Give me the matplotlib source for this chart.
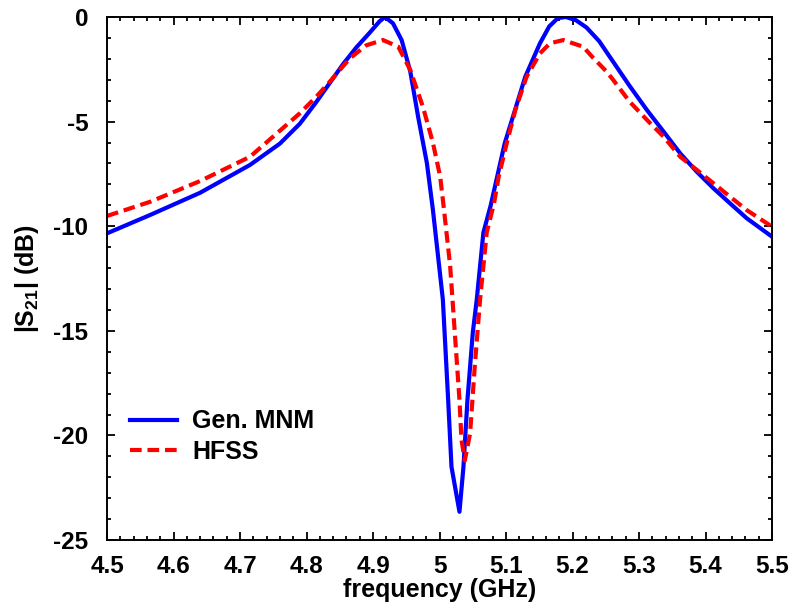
import numpy as np
import matplotlib
matplotlib.use('Agg')
import matplotlib.pyplot as plt
from matplotlib.ticker import MultipleLocator, FuncFormatter

# Gen. MNM curve (freq in GHz, |S21| in dB)
f_mnm = [4.50, 4.565, 4.64, 4.715, 4.76, 4.79, 4.815, 4.835, 4.855, 4.875,
         4.895, 4.91, 4.918, 4.93, 4.943, 4.956, 4.968, 4.981, 4.990, 5.005,
         5.013, 5.018, 5.030, 5.036, 5.042, 5.050, 5.056, 5.066, 5.077, 5.098,
         5.129, 5.151, 5.165, 5.178, 5.19, 5.205, 5.221, 5.24, 5.256, 5.286,
         5.312, 5.337, 5.362, 5.387, 5.412, 5.437, 5.462, 5.50]
s21_mnm = [-10.34, -9.46, -8.40, -7.07, -6.05, -5.1, -4.05, -3.15, -2.25, -1.45,
           -0.75, -0.2, 0.0, -0.3, -1.1, -2.6, -4.8, -6.98, -9.2, -13.5,
           -18.3, -21.5, -23.65, -21.5, -18.3, -15.1, -13.5, -10.3, -9.0, -6.04,
           -2.85, -1.26, -0.45, -0.05, 0.0, -0.15, -0.5, -1.15, -1.9, -3.3,
           -4.45, -5.48, -6.52, -7.4, -8.19, -8.91, -9.62, -10.5]

# HFSS curve
f_hfss = [4.50, 4.565, 4.64, 4.715, 4.79, 4.815, 4.835, 4.865, 4.89, 4.915,
          4.938, 4.956, 4.975, 4.990, 5.001, 5.006, 5.016, 5.023, 5.030, 5.033,
          5.038, 5.046, 5.053, 5.061, 5.071, 5.082, 5.089, 5.101, 5.114, 5.131,
          5.151, 5.166, 5.186, 5.216, 5.231, 5.251, 5.261, 5.286, 5.312, 5.337,
          5.362, 5.387, 5.412, 5.437, 5.462, 5.50]
s21_hfss = [-9.51, -8.83, -7.84, -6.68, -4.6, -3.8, -3.09, -1.98, -1.35, -1.1,
            -1.42, -2.53, -4.29, -6.0, -7.63, -9.0, -11.9, -15.1, -18.3, -20.2,
            -21.2, -19.9, -16.7, -13.5, -10.3, -8.9, -7.63, -6.04, -4.45, -2.85,
            -1.74, -1.26, -1.1, -1.42, -1.95, -2.6, -3.0, -4.05, -4.92, -5.72,
            -6.68, -7.31, -7.95, -8.59, -9.23, -10.02]

plt.rcParams['font.family'] = ['Liberation Sans', 'DejaVu Sans']
plt.rcParams['font.weight'] = 'bold'
plt.rcParams['axes.unicode_minus'] = False
plt.rcParams['mathtext.fontset'] = 'custom'
plt.rcParams['mathtext.rm'] = 'Liberation Sans:bold'
plt.rcParams['mathtext.it'] = 'Liberation Sans:bold'
plt.rcParams['mathtext.bf'] = 'Liberation Sans:bold'

fig = plt.figure(figsize=(7.94, 6.08), dpi=100)
ax = fig.add_axes([0.1348, 0.1118, 0.8375, 0.8602])

ax.plot(f_mnm, s21_mnm, color='#0000ff', lw=3.0, label='Gen. MNM')
ax.plot(f_hfss, s21_hfss, color='#ff0000', lw=3.0, dashes=(2.8, 1.4),
        label='HFSS')

ax.set_xlim(4.5, 5.5)
ax.set_ylim(-25, 0)
ax.xaxis.set_major_locator(MultipleLocator(0.1))
ax.xaxis.set_minor_locator(MultipleLocator(0.02))
ax.yaxis.set_major_locator(MultipleLocator(5))
ax.yaxis.set_minor_locator(MultipleLocator(1))
ax.xaxis.set_major_formatter(FuncFormatter(lambda v, p: '%g' % round(v, 2)))
ax.yaxis.set_major_formatter(FuncFormatter(lambda v, p: '%g' % v))

ax.tick_params(which='both', direction='in', top=True, right=True,
               labelsize=17.5, width=1.3)
ax.tick_params(which='major', length=6)
ax.tick_params(axis='x', which='major', pad=10.5)
ax.tick_params(axis='y', which='major', pad=13.5)
ax.tick_params(which='minor', length=3)
for s in ax.spines.values():
    s.set_linewidth(1.4)

ax.set_xlabel('frequency (GHz)', fontsize=18, fontweight='bold', labelpad=0)
ax.set_ylabel('|S$_{21}$| (dB)', fontsize=18, fontweight='bold', labelpad=9)

ax.legend(loc='center left', bbox_to_anchor=(0.0195, 0.198), frameon=False,
          fontsize=18, handlelength=1.9, handletextpad=0.6, labelspacing=0.25,
          borderaxespad=0)

fig.savefig('out.png', dpi=100)
